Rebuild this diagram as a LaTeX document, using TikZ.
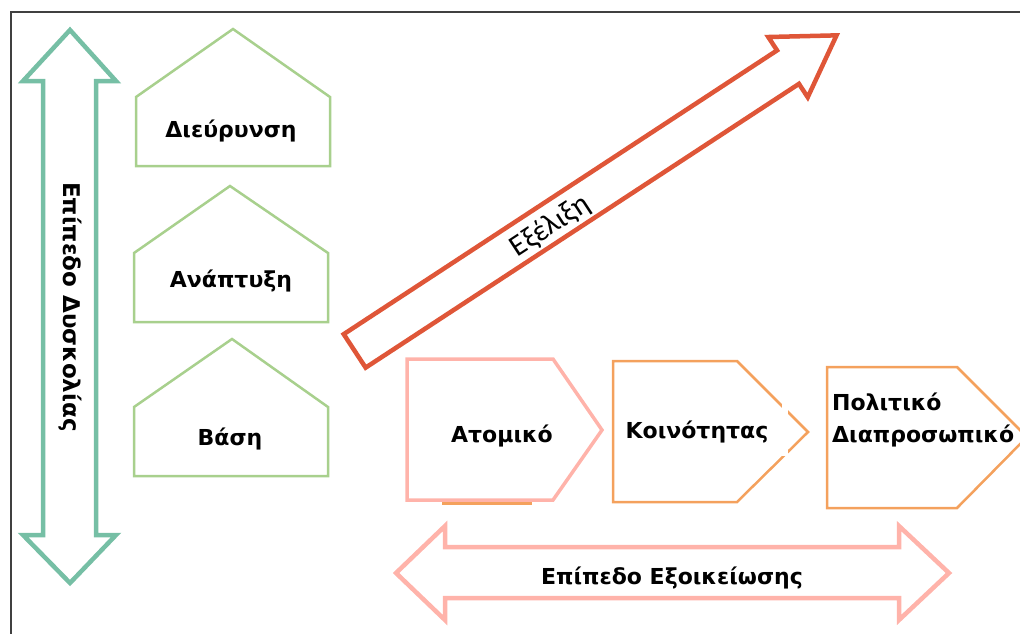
\documentclass[tikz,border=0pt]{standalone}
\usepackage{fontspec}
\setmainfont{DejaVu Sans}
\newfontfamily\calfont{Carlito}
\definecolor{framegray}{HTML}{404040}
\definecolor{tealgreen}{HTML}{76BFA5}
\definecolor{leafgreen}{HTML}{A8D08D}
\definecolor{salmon}{HTML}{FFB3AA}
\definecolor{tangerine}{HTML}{F4A15D}
\definecolor{brickred}{HTML}{DF5638}
\begin{document}
\begin{tikzpicture}[x=1pt,y=-1pt,line join=miter,
        house/.style={draw=leafgreen,line width=2.5pt},
        chevron/.style={draw=tangerine,line width=2.5pt},
        bigarrow/.style={line width=4.5pt},
        boldlabel/.style={font=\bfseries\fontsize{22}{26}\selectfont,inner sep=0pt}]
        \tikzstyle{every node}+=[inner sep=0pt]
        \useasboundingbox (0,0) rectangle (1020,633);
        \draw [framegray,line width=1.8pt] (11,640) -- (11,12) -- (1030,12);
        \draw [bigarrow,tealgreen] (70,30) -- (116,81) -- (96,81) -- (96,535) -- (116,535) -- (70,583) -- (23,535) -- (43,535) -- (43,81) -- (23,81) -- cycle;
        \node [boldlabel,font=\bfseries\fontsize{23}{26}\selectfont,rotate=-90] (difficulty) at (70,307) {Επίπεδο Δυσκολίας};
        \draw [house] (233,29) -- (330,97) -- (330,166) -- (136,166) -- (136,97) -- cycle;
        \node [boldlabel,anchor=base] (widening) at (231,137) {Διεύρυνση};
        \draw [house] (230,186) -- (328,253) -- (328,322) -- (134,322) -- (134,253) -- cycle;
        \node [boldlabel,anchor=base] (growth) at (231,287) {Ανάπτυξη};
        \draw [house] (232,339) -- (328,407) -- (328,476) -- (134,476) -- (134,407) -- cycle;
        \node [boldlabel,anchor=base] (basis) at (230,445) {Βάση};
        \begin{scope}[shift={(353,352)},rotate=33.22]
        \draw [bigarrow,brickred] (2,-20) -- (520,-20) -- (520,-36) -- (578,0) -- (520,36) -- (520,20) -- (2,20) -- cycle;
        \node [font=\calfont\fontsize{30}{34}\selectfont,rotate=33.22] (evolution) at (234,3) {Εξέλιξη};
        \end{scope}
        \draw [tangerine,line width=2.5pt] (442,503.5) -- (532,503.5);
        \draw [salmon,line width=3.5pt] (407,359) -- (553,359) -- (602,430) -- (553,500) -- (407,500) -- cycle;
        \node [boldlabel,anchor=base] (individual) at (502,442) {Ατομικό};
        \draw [chevron] (613,361) -- (737,361) -- (808,432) -- (737,502) -- (613,502) -- cycle;
        \fill [white] (782,404) rectangle (788,456);
        \node [boldlabel,anchor=base] (community) at (697,438) {Κοινότητας};
        \draw [chevron] (827,367) -- (957,367) -- (1027,437) -- (957,508) -- (827,508) -- cycle;
        \node [boldlabel,anchor=base west] (political) at (832,410) {Πολιτικό};
        \node [boldlabel,anchor=base west] (interpersonal) at (832,442) {Διαπροσωπικό};
        \draw [bigarrow,salmon] (396,573) -- (445,526) -- (445,547) -- (899,547) -- (899,526) -- (949,573) -- (899,620) -- (899,598) -- (445,598) -- (445,620) -- cycle;
        \node [boldlabel,anchor=base] (familiarity) at (672,584) {Επίπεδο Εξοικείωσης};
\end{tikzpicture}
\end{document}
